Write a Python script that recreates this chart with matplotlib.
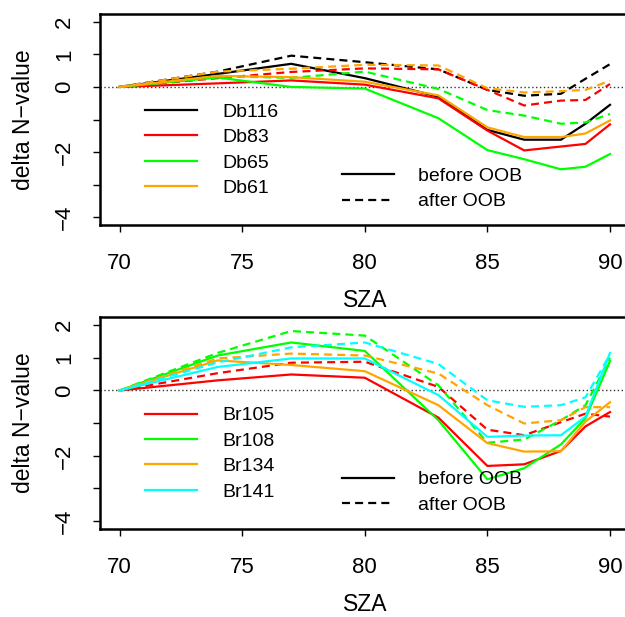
import matplotlib
matplotlib.use("Agg")
import matplotlib.pyplot as plt
from matplotlib.lines import Line2D

plt.rcParams['font.family'] = ['Liberation Sans', 'DejaVu Sans']

# solar zenith angles of the samples
sza = [70, 74, 77, 80, 83, 85, 86.5, 88, 89, 90]

# top panel (Db sites)
db_names = ["Db116", "Db83", "Db65", "Db61"]
db_colors = ["black", "#FF0000", "#00FF00", "#FFA500"]
db116_before = [0, 0.40, 0.71, 0.27, -0.30, -1.32, -1.62, -1.62, -1.13, -0.55]
db116_after = [0, 0.47, 0.96, 0.76, 0.54, -0.09, -0.27, -0.21, 0.25, 0.70]
db83_before = [0, 0.11, 0.20, 0.07, -0.35, -1.34, -1.95, -1.83, -1.75, -1.15]
db83_after = [0, 0.27, 0.46, 0.57, 0.54, -0.09, -0.57, -0.42, -0.40, 0.09]
db65_before = [0, 0.29, 0.0, -0.05, -0.96, -1.94, -2.22, -2.53, -2.45, -2.06]
db65_after = [0, 0.33, 0.28, 0.47, -0.06, -0.71, -0.88, -1.13, -1.09, -0.83]
db61_before = [0, 0.34, 0.30, 0.16, -0.26, -1.24, -1.54, -1.54, -1.43, -1.03]
db61_after = [0, 0.47, 0.56, 0.68, 0.66, -0.04, -0.17, -0.13, -0.09, 0.19]

# bottom panel (Br sites)
br_names = ["Br105", "Br108", "Br134", "Br141"]
br_colors = ["#FF0000", "#00FF00", "#FFA500", "#00FFFF"]
br105_before = [0, 0.31, 0.49, 0.39, -0.83, -2.31, -2.26, -1.85, -1.10, -0.66]
br105_after = [0, 0.53, 0.85, 0.88, 0.11, -1.20, -1.37, -0.97, -0.71, -0.80]
br108_before = [0, 1.07, 1.47, 1.21, -0.91, -2.72, -2.38, -1.65, -0.85, 0.90]
br108_after = [0, 1.15, 1.82, 1.68, 0.16, -1.60, -1.50, -0.91, -0.45, 1.00]
br134_before = [0, 0.92, 0.78, 0.59, -0.45, -1.61, -1.87, -1.86, -0.95, -0.36]
br134_after = [0, 0.98, 1.13, 1.07, 0.52, -0.45, -1.01, -0.91, -0.51, -0.51]
br141_before = [0, 0.72, 0.98, 0.98, -0.14, -1.42, -1.38, -1.37, -0.80, 1.15]
br141_after = [0, 0.86, 1.32, 1.47, 0.81, -0.30, -0.50, -0.45, -0.21, 1.10]

x_ticks = [70, 75, 80, 85, 90]
y_ticks = [-4, -3, -2, -1, 0, 1, 2]
y_ticklabels = ["\u22124", "", "\u22122", "", "0", "1", "2"]

W, H = 625, 617
LW = 1.6
DASH = (3.6, 2.3)


def draw_panel(ax, names, colors, before, after, leg_y1, leg_y2):
    ax.axhline(0, color="0.2", lw=1.0, ls=(0, (1, 1.8)), zorder=1)
    for c, b, a in zip(colors, before, after):
        ax.plot(sza, b, color=c, lw=LW)
        ax.plot(sza, a, color=c, lw=LW, dashes=DASH)

    ax.set_xlim(69.2, 90.8)
    ax.set_ylim(-4.24, 2.24)
    ax.set_xticks(x_ticks)
    ax.set_yticks(y_ticks)
    ax.set_yticklabels(y_ticklabels, rotation=90, va="center")
    ax.tick_params(axis="both", direction="out", length=5, width=1,
                   labelsize=16)
    ax.tick_params(axis="x", pad=15)
    ax.tick_params(axis="y", pad=13)
    for sp in ax.spines.values():
        sp.set_linewidth(1.8)
    ax.set_xlabel("SZA", fontsize=16.5, labelpad=11)
    ax.set_ylabel("delta N\u2212value", fontsize=16.5, labelpad=14)

    handles = [Line2D([], [], color=c, lw=LW) for c in colors]
    leg1 = ax.legend(handles, names, loc="center left", frameon=False,
                     bbox_to_anchor=(144.7 / W, 1 - leg_y1 / H),
                     bbox_transform=ax.figure.transFigure, fontsize=14,
                     handlelength=2.67, handletextpad=1.33, borderpad=0,
                     borderaxespad=0, labelspacing=0.40)
    ax.add_artist(leg1)
    style_handles = [Line2D([], [], color="black", lw=LW),
                     Line2D([], [], color="black", lw=LW, dashes=DASH)]
    ax.legend(style_handles, ["before OOB", "after OOB"], loc="center left",
              frameon=False, bbox_to_anchor=(341.6 / W, 1 - leg_y2 / H),
              bbox_transform=ax.figure.transFigure, fontsize=14,
              handlelength=2.67, handletextpad=1.28, borderpad=0,
              borderaxespad=0, labelspacing=0.42)


fig = plt.figure(figsize=(W / 100, H / 100), dpi=100)
ax1 = fig.add_axes([100 / W, 1 - 225 / H, 529.6 / W, 211 / H])
ax2 = fig.add_axes([100 / W, 1 - 529 / H, 529.6 / W, 211.7 / H])

draw_panel(ax1, db_names, db_colors,
           [db116_before, db83_before, db65_before, db61_before],
           [db116_after, db83_after, db65_after, db61_after],
           150.0, 188.7)
draw_panel(ax2, br_names, br_colors,
           [br105_before, br108_before, br134_before, br141_before],
           [br105_after, br108_after, br134_after, br141_after],
           453.7, 492.5)

fig.savefig("out.png", dpi=100)
